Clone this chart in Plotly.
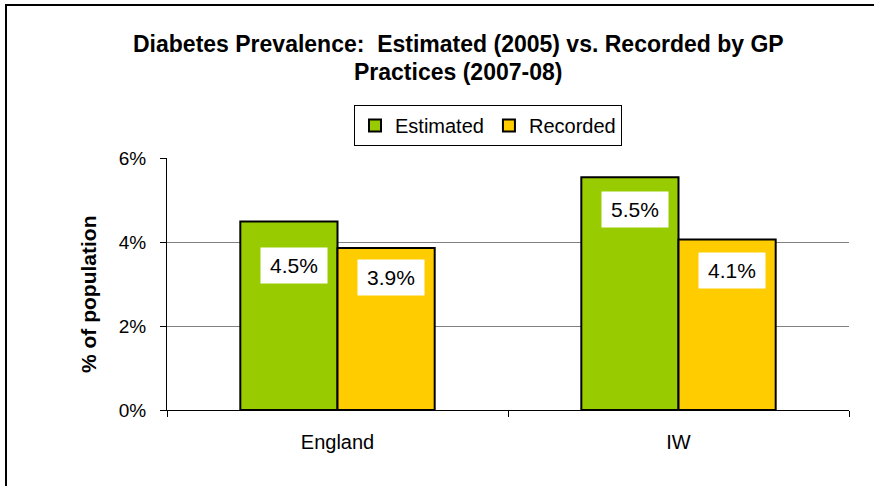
import plotly.graph_objects as go

categories = ["England", "IW"]
series_names = ["Estimated", "Recorded"]
estimated = [0.0449, 0.0554]
recorded = [0.0386, 0.0406]
colors = ["#99CC00", "#FFCC00"]
title_lines = ["Diabetes Prevalence:  Estimated (2005) vs. Recorded by GP", "Practices (2007-08)"]
label_shift = [[-44, -32], [-30, -31]]  # per series, per category (pixels)

FONT = "Arial, Liberation Sans, sans-serif"
W, H = 874, 486
L, R, T, B = 167, 25, 158, 76
pw, ph = W - L - R, H - T - B

def px_x(p):
    return (p - L) / pw

def px_y(p):
    return (H - B - p) / ph

fig = go.Figure()
for name, vals, col in zip(series_names, [estimated, recorded], colors):
    fig.add_trace(go.Bar(
        x=categories, y=vals, name=name,
        marker=dict(color=col, line=dict(color="black", width=2)),
    ))

annotations = []
# data labels
for si, vals in enumerate([estimated, recorded]):
    for ci, (cat, v) in enumerate(zip(categories, vals)):
        annotations.append(dict(
            x=cat, y=v, xref="x", yref="y", text=f"{v*100:.1f}%",
            showarrow=False, bgcolor="white", width=64, height=33,
            font=dict(family=FONT, size=21, color="black"),
            xshift=(-48 if si == 0 else 49) + 4, yshift=label_shift[si][ci],
            yanchor="middle", xanchor="center",
        ))

# title lines
for i, line in enumerate(title_lines):
    annotations.append(dict(
        x=px_x(458), y=px_y(44 + 28 * i), xref="paper", yref="paper",
        text=f"<b>{line}</b>", showarrow=False, xanchor="center", yanchor="middle",
        font=dict(family=FONT, size=23, color="black"),
    ))

# y axis title
annotations.append(dict(
    x=px_x(88), y=px_y(295), xref="paper", yref="paper", text="<b>% of population</b>",
    showarrow=False, textangle=-90, xanchor="center", yanchor="middle",
    font=dict(family=FONT, size=21, color="black"),
))

fig.update_layout(
    width=W, height=H,
    margin=dict(l=L, r=R, t=T, b=B, autoexpand=False),
    paper_bgcolor="white", plot_bgcolor="white",
    barmode="group", bargap=0.43, bargroupgap=0,
    font=dict(family=FONT, size=19, color="black"),
    showlegend=True,
    legend=dict(
        orientation="h", x=px_x(488), xanchor="center", y=px_y(105), yanchor="top",
        bordercolor="black", borderwidth=1, bgcolor="white",
        font=dict(family=FONT, size=20, color="black"),
        itemwidth=30, traceorder="normal",
    ),
    annotations=annotations,
    shapes=[
        dict(type="rect", xref="paper", yref="paper",
             x0=px_x(6), x1=px_x(890), y0=px_y(500), y1=px_y(5),
             line=dict(color="black", width=2), fillcolor="rgba(0,0,0,0)", layer="below"),
    ],
)
fig.update_yaxes(
    range=[0, 0.06], dtick=0.02, tickformat=".0%",
    showgrid=True, gridcolor="#808080", gridwidth=1,
    showline=True, linecolor="black", linewidth=1,
    ticks="outside", ticklen=6, tickcolor="black", ticklabelstandoff=10,
    tickfont=dict(size=19),
    zeroline=False,
)
fig.update_xaxes(
    showline=True, linecolor="black", linewidth=1,
    ticks="outside", ticklen=6, tickcolor="black", tickson="boundaries",
    ticklabelstandoff=14, showgrid=False, tickfont=dict(size=20),
)

fig.write_html("out.html")
